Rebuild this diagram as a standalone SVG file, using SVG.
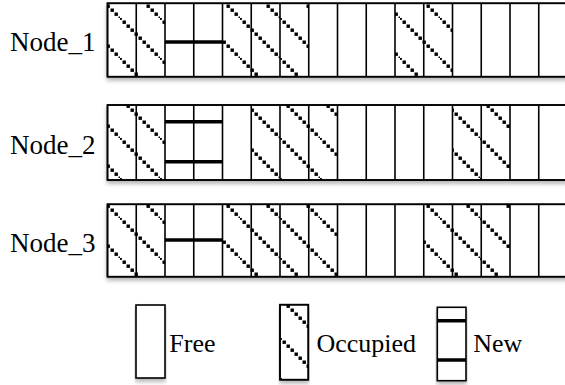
<svg xmlns="http://www.w3.org/2000/svg" width="565" height="385" viewBox="0 0 565 385">
  <style>
    .lbl { font-family: "Liberation Serif", "Times New Roman", serif; font-size: 27px; fill: #000; }
    .leg { font-family: "Liberation Serif", "Times New Roman", serif; font-size: 26px; fill: #000; }
    .frame { fill: #fff; stroke: #000; stroke-width: 1.6; filter: url(#sh); }
    .grid { fill: none; stroke: #000; stroke-width: 1.6; }
    .occ { fill: url(#hatch); stroke: none; }
    .new { stroke: #000; stroke-width: 3.6; fill: none; }
  </style>
  <defs>
    <filter id="sh" x="-5%" y="-10%" width="110%" height="130%">
      <feGaussianBlur in="SourceAlpha" stdDeviation="2"/>
      <feOffset dx="0" dy="3" result="b"/>
      <feComponentTransfer><feFuncA type="linear" slope="0.3"/></feComponentTransfer>
      <feMerge><feMergeNode/><feMergeNode in="SourceGraphic"/></feMerge>
    </filter>
    <pattern id="hatch" patternUnits="userSpaceOnUse" x="0" y="18" width="40" height="40">
      <g fill="#000">
        <rect x="-1.5" y="-1.5" width="3.4" height="3.4"/>
        <rect x="2.5" y="2.5" width="3.4" height="3.4"/>
        <rect x="6.5" y="6.5" width="3.4" height="3.4"/>
        <rect x="10.5" y="10.5" width="3.4" height="3.4"/>
        <rect x="14.5" y="14.5" width="3.4" height="3.4"/>
        <rect x="18.5" y="18.5" width="3.4" height="3.4"/>
        <rect x="22.5" y="22.5" width="3.4" height="3.4"/>
        <rect x="26.5" y="26.5" width="3.4" height="3.4"/>
        <rect x="30.5" y="30.5" width="3.4" height="3.4"/>
        <rect x="34.5" y="34.5" width="3.4" height="3.4"/>
        <rect x="38.5" y="38.5" width="3.4" height="3.4"/>
      </g>
    </pattern>
  </defs>

  <g id="node1">
    <text class="lbl" x="10" y="51">Node_1</text>
    <rect class="frame" x="107.5" y="3.3" width="460" height="73.4"/>
    <rect class="occ" x="107.5" y="3.3" width="57.5" height="73.4"/>
    <rect class="occ" x="222.5" y="3.3" width="86.25" height="73.4"/>
    <rect class="occ" x="395" y="3.3" width="57.5" height="73.4"/>
    <path class="new" d="M165 42 H222.5"/>
    <path class="grid" d="M136.25 3.3V76.7 M165 3.3V76.7 M193.75 3.3V76.7 M222.5 3.3V76.7 M251.25 3.3V76.7 M280 3.3V76.7 M308.75 3.3V76.7 M337.5 3.3V76.7 M366.25 3.3V76.7 M395 3.3V76.7 M423.75 3.3V76.7 M452.5 3.3V76.7 M481.25 3.3V76.7 M510 3.3V76.7 M538.75 3.3V76.7"/>
    <rect class="grid" x="107.5" y="3.3" width="460" height="73.4"/>
  </g>

  <g id="node2">
    <text class="lbl" x="10" y="153.5">Node_2</text>
    <rect class="frame" x="107.5" y="105" width="460" height="75"/>
    <rect class="occ" x="107.5" y="105" width="57.5" height="75"/>
    <rect class="occ" x="251.25" y="105" width="86.25" height="75"/>
    <rect class="occ" x="452.5" y="105" width="57.5" height="75"/>
    <path class="new" d="M165 121.7 H222.5 M165 161.7 H222.5"/>
    <path class="grid" d="M136.25 105V180 M165 105V180 M193.75 105V180 M222.5 105V180 M251.25 105V180 M280 105V180 M308.75 105V180 M337.5 105V180 M366.25 105V180 M395 105V180 M423.75 105V180 M452.5 105V180 M481.25 105V180 M510 105V180 M538.75 105V180"/>
    <rect class="grid" x="107.5" y="105" width="460" height="75"/>
  </g>

  <g id="node3">
    <text class="lbl" x="10" y="251.5">Node_3</text>
    <rect class="frame" x="107.5" y="204.3" width="460" height="72.4"/>
    <rect class="occ" x="107.5" y="204.3" width="57.5" height="72.4"/>
    <rect class="occ" x="222.5" y="204.3" width="115" height="72.4"/>
    <rect class="occ" x="423.75" y="204.3" width="86.25" height="72.4"/>
    <path class="new" d="M165 240 H222.5"/>
    <path class="grid" d="M136.25 204.3V276.7 M165 204.3V276.7 M193.75 204.3V276.7 M222.5 204.3V276.7 M251.25 204.3V276.7 M280 204.3V276.7 M308.75 204.3V276.7 M337.5 204.3V276.7 M366.25 204.3V276.7 M395 204.3V276.7 M423.75 204.3V276.7 M452.5 204.3V276.7 M481.25 204.3V276.7 M510 204.3V276.7 M538.75 204.3V276.7"/>
    <rect class="grid" x="107.5" y="204.3" width="460" height="72.4"/>
  </g>

  <g id="legend-free">
    <rect class="frame" x="136" y="305" width="29" height="73"/>
    <text class="leg" x="169.3" y="352">Free</text>
  </g>

  <g id="legend-occupied">
    <rect class="frame" x="280" y="304.7" width="28.3" height="75"/>
    <rect class="occ" x="280" y="304.7" width="28.3" height="75"/>
    <rect class="grid" x="280" y="304.7" width="28.3" height="75"/>
    <text class="leg" x="316.5" y="352">Occupied</text>
  </g>

  <g id="legend-new">
    <rect class="frame" x="437.3" y="307.3" width="28.7" height="73.4"/>
    <path class="new" d="M437.3 320.7 H466 M437.3 360 H466"/>
    <text class="leg" x="473.3" y="352">New</text>
  </g>
</svg>
